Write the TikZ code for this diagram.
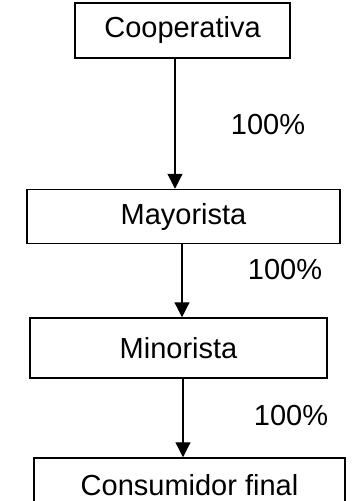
\documentclass[tikz,border=0pt]{standalone}
\usepackage{fontspec}
\setmainfont{Liberation Sans}
\usetikzlibrary{arrows.meta, positioning, calc}

\begin{document}
\begin{tikzpicture}[
  x=1pt, y=-1pt,
  box/.style={rectangle, draw=black, line width=1.5pt, minimum height=55pt, font=\fontsize{29}{35}\selectfont, inner sep=0pt},
  pct/.style={font=\fontsize{29}{35}\selectfont},
  arrow/.style={-{Triangle[width=15pt,length=15pt]}, line width=1.2pt}
]
  \clip (0,0) rectangle (352,501);
  \node[box, minimum width=215pt] (coop) at (182.5,30.5) {Cooperativa};
  \node[box, minimum width=313pt, minimum height=54pt] (mayor) at (183.5,216.5) {Mayorista};
  \node[box, minimum width=297pt, minimum height=60pt] (minor) at (178.5,348) {Minorista};
  \node[box, minimum width=311pt, minimum height=54pt] (consum) at (189.5,485) {Consumidor final};

  \node[pct] (pct1) at (268,125) {100\%};
  \node[pct] (pct2) at (285,270) {100\%};
  \node[pct] (pct3) at (291,416) {100\%};

  \draw[arrow] ([xshift=-7.5pt]coop.south) -- ([xshift=-7.5pt]coop.south |- mayor.north);
  \draw[arrow] ([xshift=-1.5pt]mayor.south) -- ([xshift=-1.5pt]mayor.south |- minor.north);
  \draw[arrow] ([xshift=4.5pt]minor.south) -- ([xshift=4.5pt]minor.south |- consum.north);
\end{tikzpicture}
\end{document}
